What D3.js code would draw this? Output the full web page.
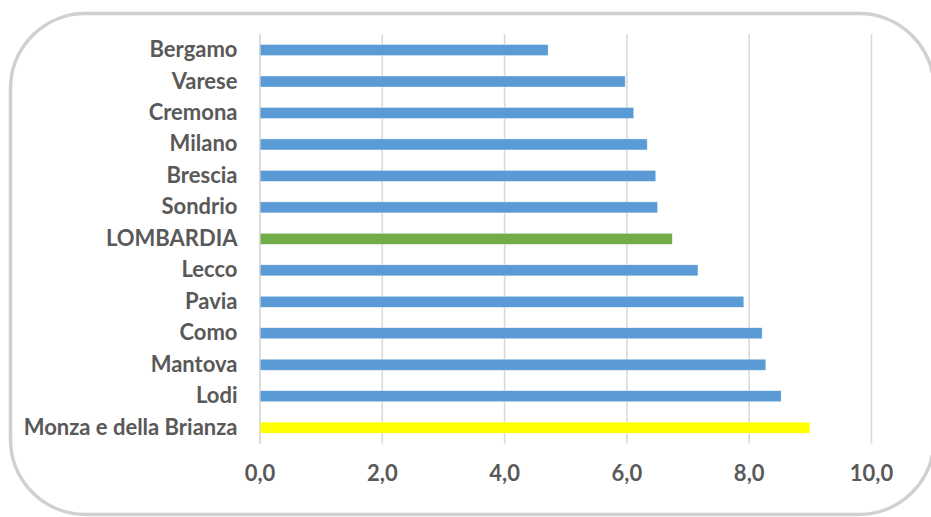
<!DOCTYPE html>
<html>
<head>
<meta charset="utf-8">
<script src="https://cdn.jsdelivr.net/npm/d3@7"></script>
<style>
  html, body { margin: 0; padding: 0; background: #fff; }
  svg { display: block; }
</style>
</head>
<body>
<svg id="chart" width="931" height="517"></svg>
<script>
// Provinces of Lombardy, top to bottom
const categories = ["Bergamo", "Varese", "Cremona", "Milano", "Brescia", "Sondrio",
  "LOMBARDIA", "Lecco", "Pavia", "Como", "Mantova", "Lodi", "Monza e della Brianza"];
const values = [4.72, 5.98, 6.12, 6.34, 6.48, 6.51, 6.75, 7.17, 7.92, 8.22, 8.28, 8.53, 9.0];
const barColors = ["#5b9bd5", "#5b9bd5", "#5b9bd5", "#5b9bd5", "#5b9bd5", "#5b9bd5",
  "#70ad47", "#5b9bd5", "#5b9bd5", "#5b9bd5", "#5b9bd5", "#5b9bd5", "#ffff00"];
const tickValues = [0, 2, 4, 6, 8, 10];

const svg = d3.select("#chart");
const font = "Lato, 'Open Sans', sans-serif";
const textColor = "#595959";

// Rounded frame around the chart area (right edge runs just past the page)
svg.append("rect")
  .attr("x", 10.5).attr("y", 13.5)
  .attr("width", 923.5).attr("height", 501)
  .attr("rx", 75).attr("ry", 75)
  .attr("fill", "#fff")
  .attr("stroke", "#d0d0d0")
  .attr("stroke-width", 3.5);

const plot = { left: 259.5, right: 871, top: 34.3, bottom: 443.4 };

const x = d3.scaleLinear().domain([0, 10]).range([plot.left, plot.right]);
const y = d3.scaleBand().domain(categories).range([plot.top, plot.bottom]).paddingInner(0.65).paddingOuter(0.325);

// Vertical gridlines
const xAxis = d3.axisBottom(x)
  .tickValues(tickValues)
  .tickSize(-(plot.bottom - plot.top))
  .tickFormat(d => d3.format(".1f")(d).replace(".", ","));

const gx = svg.append("g")
  .attr("transform", `translate(0,${plot.bottom})`)
  .call(xAxis);
gx.select(".domain").remove();
gx.selectAll(".tick line").attr("stroke", "#d9d9d9").attr("stroke-width", 1.6);
gx.selectAll(".tick text")
  .attr("y", 22)
  .attr("fill", textColor)
  .style("font-family", font)
  .style("font-weight", "bold")
  .style("font-size", "22px");

// Bars
svg.append("g").selectAll("rect")
  .data(categories)
  .join("rect")
  .attr("x", x(0))
  .attr("y", d => y(d))
  .attr("width", (d, i) => x(values[i]) - x(0))
  .attr("height", y.bandwidth())
  .attr("fill", (d, i) => barColors[i])
  .attr("stroke", "rgba(255,255,255,0.6)")
  .attr("stroke-width", 0.6);

// Category axis
const yAxis = d3.axisLeft(y).tickSize(0).tickPadding(22);
const gy = svg.append("g")
  .attr("transform", `translate(${plot.left},0)`)
  .call(yAxis);
gy.select(".domain").attr("stroke", "#d9d9d9").attr("stroke-width", 1.2);
gy.selectAll(".tick text")
  .attr("fill", textColor)
  .style("font-family", font)
  .style("font-weight", "bold")
  .style("font-size", "22px");
</script>
</body>
</html>
